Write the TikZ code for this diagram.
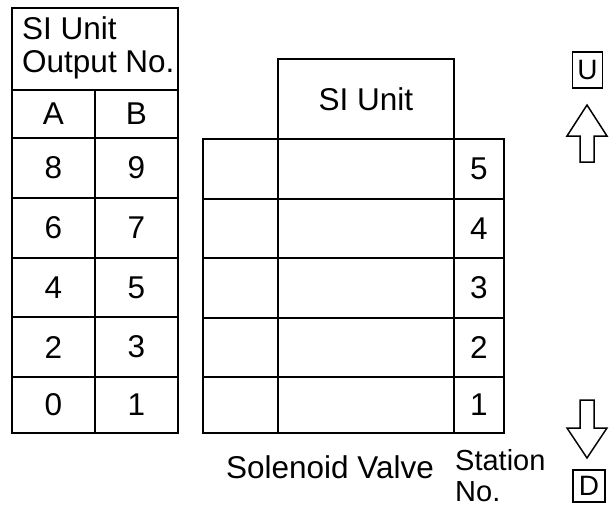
\documentclass[tikz,border=0pt]{standalone}
\usepackage{fontspec}
\setmainfont{Liberation Sans}
\begin{document}
\begin{tikzpicture}[x=1pt,y=-1pt,
  cell/.style={draw,line width=1.6pt,inner sep=0pt},
  txt/.style={font=\fontsize{31.5}{33}\selectfont,inner sep=0pt},
  smalltxt/.style={font=\fontsize{29}{30}\selectfont,inner sep=0pt},
  dirtxt/.style={font=\fontsize{28}{28}\selectfont,inner sep=0pt},
  arrowshape/.style={draw,line width=1.5pt,line join=miter,fill=white}]
\useasboundingbox (0,0) rectangle (611,512);
% ---------- left table ----------
\node[cell,minimum width=166pt,minimum height=82pt] (hdr) at (95,49) {};
\node[txt,anchor=base west] (hdr1) at (22,39) {SI Unit};
\node[txt,anchor=base west] (hdr2) at (22,72) {Output No.};
\node[cell,minimum width=83pt,minimum height=48pt] (ca) at (53.5,114) {};
\node[cell,minimum width=83pt,minimum height=48pt] (cb) at (136.5,114) {};
\node[txt] at (ca) {A};
\node[txt] at (cb) {B};
\foreach \i/\yt/\yb/\a/\b in {1/138/198/8/9,2/198/258/6/7,3/258/317/4/5,4/317/377/2/3,5/377/433/0/1}{
  \pgfmathsetmacro{\h}{\yb-\yt}
  \pgfmathsetmacro{\c}{(\yb+\yt)/2}
  \node[cell,minimum width=83pt,minimum height=\h pt] (la\i) at (53.5,\c) {};
  \node[cell,minimum width=83pt,minimum height=\h pt] (lb\i) at (136.5,\c) {};
  \node[txt] (ta\i) at (la\i) {\a};
  \node[txt] (tb\i) at (lb\i) {\b};
}
% ---------- right table ----------
\node[cell,minimum width=176pt,minimum height=80pt] (si) at (366,99) {};
\node[txt] (sitext) at (366,99) {SI Unit};
\foreach \i/\yt/\yb/\s in {1/139/199/5,2/199/258/4,3/258/318/3,4/318/377/2,5/377/433/1}{
  \pgfmathsetmacro{\h}{\yb-\yt}
  \pgfmathsetmacro{\c}{(\yb+\yt)/2}
  \node[cell,minimum width=75pt,minimum height=\h pt] (va\i) at (240.5,\c) {};
  \node[cell,minimum width=176pt,minimum height=\h pt] (vb\i) at (366,\c) {};
  \node[cell,minimum width=50pt,minimum height=\h pt] (st\i) at (479,\c) {};
  \node[txt] (sn\i) at (st\i) {\s};
}
\node[txt,anchor=base] (sol) at (330,478) {Solenoid Valve};
\node[smalltxt,anchor=base west] (sta1) at (455,470) {Station};
\node[smalltxt,anchor=base west] (sta2) at (455,501) {No.};
% ---------- direction markers ----------
\node[cell,minimum width=30pt,minimum height=36pt] (ubox) at (587.5,70) {};
\node[dirtxt] (ut) at (ubox) {U};
\draw[arrowshape] (587,105) -- (607,136) -- (594,136) -- (594,162) -- (580,162) -- (580,136) -- (567,136) -- cycle;
\draw[arrowshape] (580,400) -- (594,400) -- (594,428) -- (607,428) -- (587,458) -- (567,428) -- (580,428) -- cycle;
\node[cell,minimum width=32pt,minimum height=32pt] (dbox) at (589,486) {};
\node[dirtxt] (dt) at (dbox) {D};
\end{tikzpicture}
\end{document}
